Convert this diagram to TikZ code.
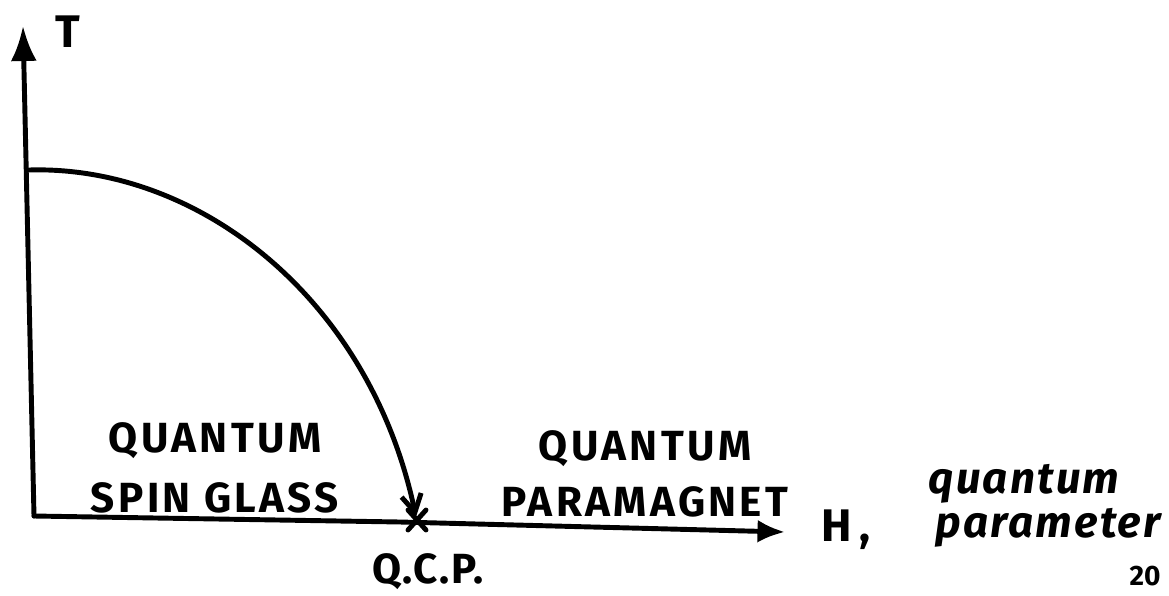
\documentclass[tikz,border=0pt]{standalone}
\usepackage{fontspec}
\setsansfont{Fira Sans}
\usetikzlibrary{arrows.meta}

\begin{document}
\begin{tikzpicture}[
  x=0.02cm, y=-0.02cm,
  font=\sffamily,
  axis/.style={line width=2.8pt, line cap=round},
  phase/.style={font=\sffamily\bfseries\fontsize{24}{28}\selectfont\addfontfeature{LetterSpace=8}, align=center, inner sep=0pt},
  hand/.style={font=\sffamily\itshape\bfseries\fontsize{25}{27}\selectfont\addfontfeature{LetterSpace=5}, inner sep=0pt}
]
\useasboundingbox (0,0) rectangle (1169,595);

% axes
\coordinate (origin) at (34,516);
\coordinate (ytip) at (23,26);
\coordinate (xtip) at (785,532);
\coordinate (tc) at (29,170);
\coordinate (qcp) at (417,520);

\draw[axis, -{Latex[length=7mm,width=5.2mm]}] (origin) -- (ytip);
\draw[axis, -{Latex[length=5.5mm,width=4.6mm]}] (origin) -- (400,522) -- (xtip);

% phase boundary
\draw[axis, -{Straight Barb[length=3.5mm,width=4mm]}] (tc) .. controls (200,165) and (370,300) .. (416,517);
\draw[axis] (qcp) ++(-9,-10) -- ++(18,20);
\draw[axis] (qcp) ++(9,-10) -- ++(-18,20);

% labels
\node[font=\sffamily\bfseries\fontsize{26}{28}\selectfont, inner sep=0pt] (tlabel) at (68,32) {T};
\node[phase] (glass) at (215,468) {QUANTUM\\[6pt]SPIN GLASS};
\node[phase] (para) at (645,474) {QUANTUM\\[4pt]PARAMAGNET};
\node[phase, font=\sffamily\bfseries\fontsize{24}{28}\selectfont\addfontfeature{LetterSpace=4}] (qcplabel) at (428,572) {Q.C.P.};
\node[hand, font=\sffamily\bfseries\fontsize{26}{28}\selectfont] (hlabel) at (846,530) {H\,,};
\node[hand] (qp1) at (1024,484) {quantum};
\node[hand] (qp2) at (1048,528) {parameter};
\node[hand, font=\sffamily\bfseries\fontsize{16}{18}\selectfont] (page) at (1145,576) {20};

\end{tikzpicture}
\end{document}
